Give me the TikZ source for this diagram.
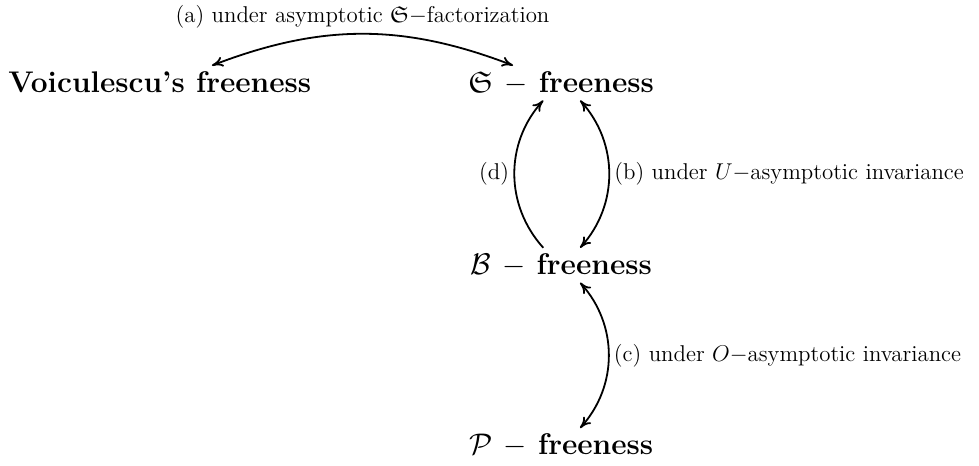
\RequirePackage{fix-cm}
\documentclass[tikz,border=0pt]{standalone}
\usepackage{amsmath,amssymb}
\usetikzlibrary{positioning,arrows.meta}
\tikzset{
  fr/.style  ={font=\fontsize{16.6}{20}\selectfont\bfseries, inner sep=3pt, anchor=base},
  arc/.style ={line width=1pt, draw=black},
  lbl/.style ={font=\fontsize{12.7}{15}\selectfont, inner sep=2.5pt}
}

\begin{document}
\begin{tikzpicture}[>={Computer Modern Rightarrow[length=2.2mm,width=2mm]}]
  \useasboundingbox (0,0) rectangle (19.12,-9.10);

  \node[fr] (v) at (3.12,-1.80) {Voiculescu's freeness};
  \node[fr] (s) at (10.96,-1.80) {$\mathfrak{S}$ $-$ freeness};
  \node[fr,below=3.56cm of s.base,anchor=base] (b) {$\mathcal{B}$ $-$ freeness};
  \node[fr,below=3.52cm of b.base,anchor=base] (p) {$\mathcal{P}$ $-$ freeness};

  \draw[arc,<->] ([xshift=1.02cm]v.north) to[bend left=21]
    node[lbl,midway,above] {(a) under asymptotic $\mathfrak{S}-$factorization} ([xshift=-0.94cm]s.north);
  \draw[arc,<->] ([xshift=0.37cm]s.south) to[bend left=42]
    node[lbl,midway,right] {(b) under $U-$asymptotic invariance} ([xshift=0.37cm]b.north);
  \draw[arc,<->] ([xshift=0.37cm]b.south) to[bend left=42]
    node[lbl,midway,right] {(c) under $O-$asymptotic invariance} ([xshift=0.37cm]p.north);
  \draw[arc,->] ([xshift=-0.35cm]b.north) to[bend left=42]
    node[lbl,midway,left] {(d)} ([xshift=-0.35cm]s.south);
\end{tikzpicture}
\end{document}
